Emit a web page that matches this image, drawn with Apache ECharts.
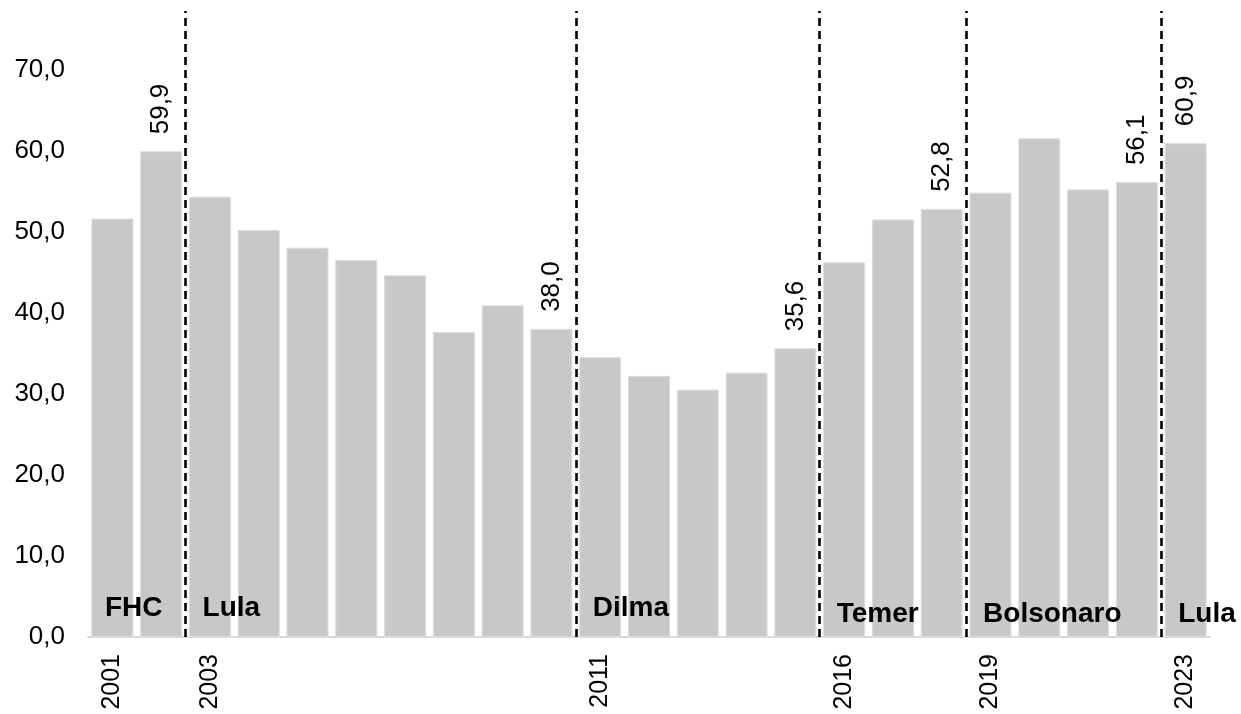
<!DOCTYPE html>
<html>
<head>
<meta charset="utf-8">
<script src="https://cdn.jsdelivr.net/npm/echarts@6/dist/echarts.min.js"></script>
<style>
  html, body { margin: 0; padding: 0; background: #fff; }
  #chart { width: 1241px; height: 714px; }
</style>
</head>
<body>
<div id="chart"></div>
<script>
// Annual values, 2001–2023
const years = ['2001','2002','2003','2004','2005','2006','2007','2008','2009','2010','2011','2012',
               '2013','2014','2015','2016','2017','2018','2019','2020','2021','2022','2023'];
const values = [51.6, 59.9, 54.3, 50.2, 48.0, 46.5, 44.6, 37.6, 40.9, 38.0, 34.5, 32.2,
                30.5, 32.6, 35.6, 46.2, 51.5, 52.8, 54.8, 61.5, 55.2, 56.1, 60.9];

// Presidential terms: name and first year
const termNames = ['FHC', 'Lula', 'Dilma', 'Temer', 'Bolsonaro', 'Lula'];
const termStarts = ['2001', '2003', '2011', '2016', '2019', '2023'];

// Y-axis tick values
const yTicks = [0, 10, 20, 30, 40, 50, 60, 70];

const fmt = v => v.toFixed(1).replace('.', ',');

const startIdx = termStarts.map(y => years.indexOf(y));
// Last year of each term gets a value label
const labelIdx = startIdx.slice(1).map(i => i - 1).concat([years.length - 1]);

// Vertical position of the term names (value units)
const nameY = [3.6, 3.6, 3.6, 2.8, 2.8, 2.8];

const barData = values.map((v, i) => ({
  value: v,
  label: { show: labelIdx.includes(i) }
}));

const chart = echarts.init(document.getElementById('chart'), null, { renderer: 'canvas' });
const FONT = '"Liberation Sans", Arial, sans-serif';

chart.setOption({
  animation: false,
  backgroundColor: '#ffffff',
  grid: { left: 88, right: 31, top: 11, bottom: 77, containLabel: false },
  xAxis: [
    {
      type: 'category',
      data: years,
      axisLine: { show: true, lineStyle: { color: '#d9d9d9', width: 2 } },
      axisTick: { show: false },
      axisLabel: {
        interval: (i, v) => termStarts.includes(v),
        rotate: 90,
        margin: 17,
        fontSize: 25,
        color: '#000',
        fontFamily: FONT
      }
    },
    {
      type: 'value',
      min: -0.5,
      max: years.length - 0.5,
      show: false
    }
  ],
  yAxis: {
    type: 'value',
    min: yTicks[0],
    max: 77.2,
    interval: 10,
    axisLine: { show: false },
    axisTick: { show: false },
    splitLine: { show: false },
    axisLabel: {
      showMaxLabel: false,
      formatter: v => yTicks.includes(v) ? fmt(v) : '',
      fontSize: 26,
      color: '#000',
      margin: 23,
      fontFamily: FONT
    }
  },
  series: [
    {
      type: 'bar',
      data: barData,
      barCategoryGap: '14%',
      itemStyle: { color: '#c8c8c8', borderColor: '#dcdcdc', borderWidth: 1 },
      label: {
        position: 'top',
        distance: 17,
        rotate: 90,
        align: 'left',
        verticalAlign: 'middle',
        fontSize: 26,
        color: '#000',
        fontFamily: FONT,
        formatter: p => fmt(p.value)
      },
      z: 2
    },
    {
      type: 'scatter',
      xAxisIndex: 1,
      symbolSize: 0,
      silent: true,
      itemStyle: { opacity: 1 },
      data: termNames.map((n, k) => ({ value: [startIdx[k] - 0.5, nameY[k]], name: n })),
      label: {
        show: true,
        position: 'right',
        distance: 17,
        formatter: p => p.name,
        fontSize: 28,
        fontWeight: 'bold',
        color: '#000',
        opacity: 1,
        fontFamily: FONT
      },
      markLine: {
        silent: true,
        symbol: ['none', 'none'],
        label: { show: false },
        lineStyle: { color: '#000', type: [8, 5], width: 2.6, opacity: 1 },
        data: startIdx.slice(1).map(i => ({ xAxis: i - 0.5 }))
      },
      z: 5
    }
  ]
});
</script>
</body>
</html>
